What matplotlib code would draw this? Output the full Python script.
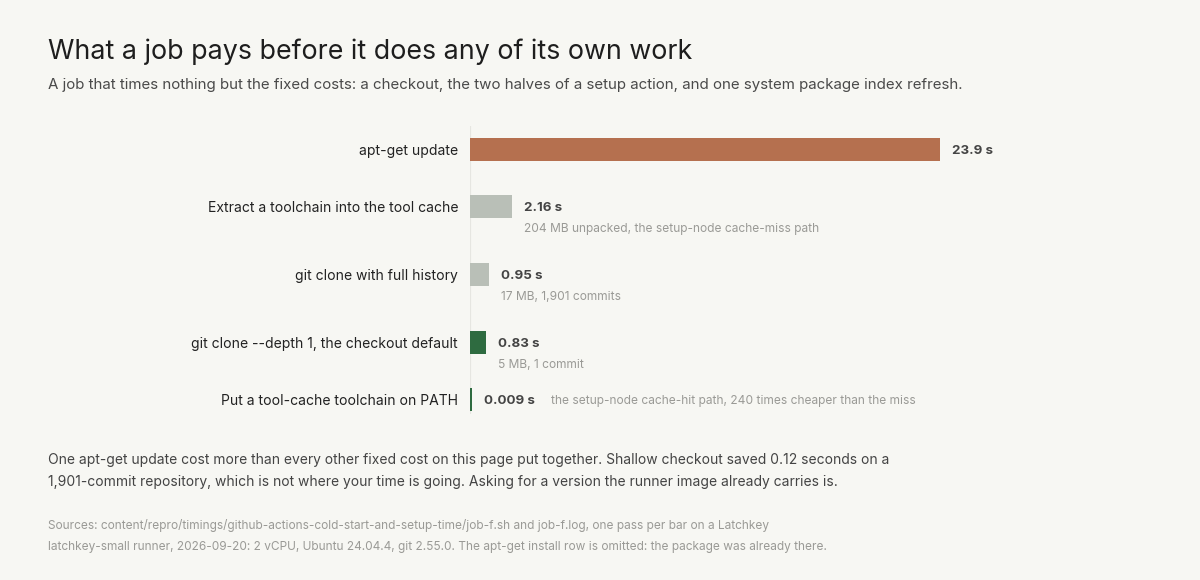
import matplotlib.pyplot as plt
import numpy as np

plt.rcParams['font.family'] = ['Inter', 'DejaVu Sans']

# data
steps = ["apt-get update",
         "Extract a toolchain into the tool cache",
         "git clone with full history",
         "git clone --depth 1, the checkout default",
         "Put a tool-cache toolchain on PATH"]
seconds = [23.9, 2.16, 0.95, 0.83, 0.009]
notes = ["",
         "204 MB unpacked, the setup-node cache-miss path",
         "17 MB, 1,901 commits",
         "5 MB, 1 commit",
         "the setup-node cache-hit path, 240 times cheaper than the miss"]
inline_note = [False, False, False, False, True]

# styling
bar_colors = ["#b5704f", "#b9bfb7", "#b9bfb7", "#2e6b40", "#2e6b40"]
bg = "#f7f7f3"

W, H = 1200, 580
fig = plt.figure(figsize=(W / 100, H / 100), dpi=100, facecolor=bg)


def fx(x):
    return x / W


def fy(y):
    return 1 - y / H


# plot area in pixels: x from 470 (zero) to 1180, y from 120 to 420
ax_left, ax_right, ax_top, ax_bot = 470, 1180, 120, 420
ax = fig.add_axes([fx(ax_left), fy(ax_bot), fx(ax_right - ax_left), (ax_bot - ax_top) / H])
ax.set_facecolor(bg)
px_per_s = (940 - 470) / 23.9
ax.set_xlim(0, (ax_right - ax_left) / px_per_s)
ax.set_ylim(ax_bot - ax_top, 0)  # y in pixels from top of plot area
ax.axis('off')

# row layout: base height plus room for a note under the bar
base_h, note_h = 46, 22
heights = [base_h + (note_h if n and not inl else 0) for n, inl in zip(notes, inline_note)]
edges = np.concatenate([[0], np.cumsum(heights)])
centers = (edges[:-1] + edges[1:]) / 2
centers = centers + (149.5 - ax_top) - centers[0]

ax.plot([0, 0], [126 - ax_top, 414 - ax_top], color="#e6e6e1", lw=1.6, zorder=0,
        solid_capstyle='butt')

min_w = 1.8 / px_per_s
ax.barh(centers, [max(v, min_w) for v in seconds], height=23.5, left=0,
        color=bar_colors, zorder=2)

for y, label, v, note, inl in zip(centers, steps, seconds, notes, inline_note):
    ax.annotate(label, xy=(0, y), xytext=(-12, 0), textcoords='offset pixels',
                ha='right', va='center_baseline', fontsize=10.05, color="#222222")
    t = ax.annotate(f"{v:g} s", xy=(max(v, min_w), y), xytext=(12, 0),
                    textcoords='offset pixels', ha='left', va='center_baseline',
                    fontsize=9.6, fontweight='bold', color="#444444")
    if note:
        if inl:
            ax.annotate(note, xy=(1, 0.5), xycoords=t, xytext=(16, 0),
                        textcoords='offset pixels', ha='left', va='center',
                        fontsize=8.6, color="#9a9a96")
        else:
            ax.annotate(note, xy=(max(v, min_w), y), xytext=(12, -21),
                        textcoords='offset pixels', ha='left', va='center_baseline',
                        fontsize=8.6, color="#9a9a96")

fig.text(fx(48), fy(49), "What a job pays before it does any of its own work",
         ha='left', va='center_baseline', fontsize=19.3, color="#1e1e1e")
fig.text(fx(48), fy(83), "A job that times nothing but the fixed costs: a checkout, the two halves "
         "of a setup action, and one system package index refresh.",
         ha='left', va='center_baseline', fontsize=10.85, color="#4a4a4a")

fig.text(fx(48), fy(471), "One apt-get update cost more than every other fixed cost on this page put "
         "together. Shallow checkout saved 0.12 seconds on a\n1,901-commit repository, which is not "
         "where your time is going. Asking for a version the runner image already carries is.",
         ha='left', va='center', fontsize=10.0, color="#444444", linespacing=1.75)

fig.text(fx(48), fy(536), "Sources: content/repro/timings/github-actions-cold-start-and-setup-time/"
         "job-f.sh and job-f.log, one pass per bar on a Latchkey\nlatchkey-small runner, 2026-09-20: "
         "2 vCPU, Ubuntu 24.04.4, git 2.55.0. The apt-get install row is omitted: the package was "
         "already there.",
         ha='left', va='center', fontsize=8.55, color="#9a9a96", linespacing=2.0)

fig.savefig("out.png", dpi=100, facecolor=bg)
